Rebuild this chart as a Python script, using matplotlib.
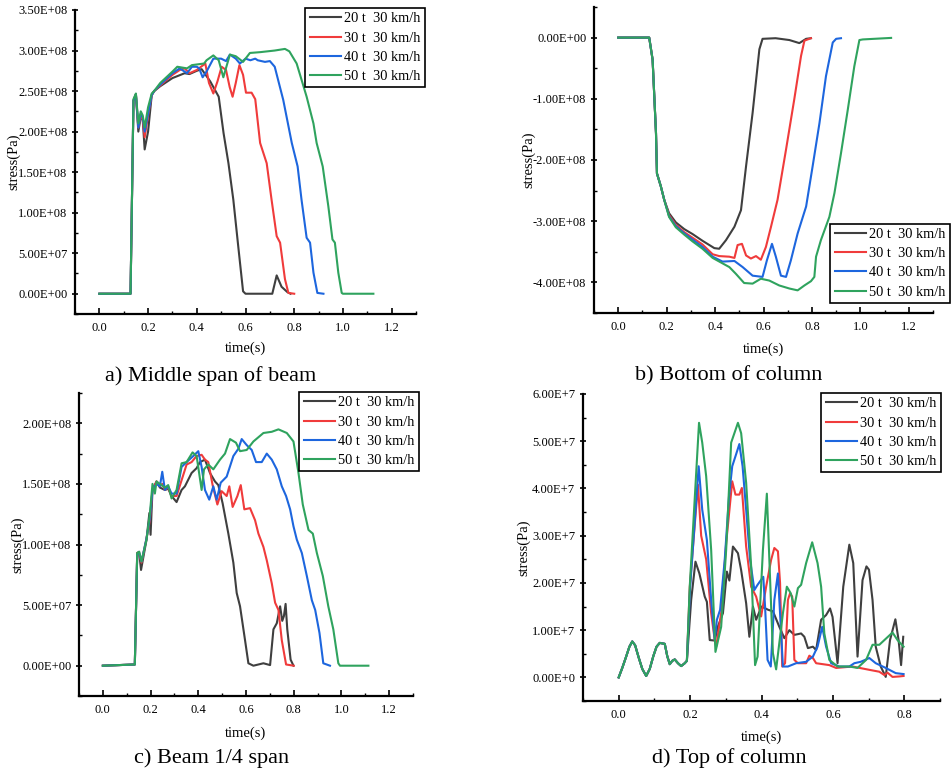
import matplotlib
matplotlib.use("Agg")
import matplotlib.pyplot as plt
from matplotlib.ticker import MultipleLocator, FuncFormatter

plt.rcParams['font.family'] = ['Liberation Serif', 'DejaVu Serif']

W, H = 952, 775

labels = ['20 t  30 km/h', '30 t  30 km/h', '40 t  30 km/h', '50 t  30 km/h']
colors = ['#3f3f3f', '#f03b3b', '#1d66de', '#2fa35e']

# ---- a) middle span of beam, stress in 1e8 Pa ----
a_t20 = [0, 0.128, 0.14, 0.15, 0.16, 0.17, 0.178, 0.186, 0.2, 0.215, 0.225, 0.25, 0.3, 0.35, 0.37, 0.4,
         0.42, 0.455, 0.49, 0.51, 0.53, 0.55, 0.57, 0.59, 0.6, 0.71, 0.728, 0.748, 0.772, 0.785]
a_s20 = [0, 0, 2.38, 2.46, 2.0, 2.18, 2.15, 1.78, 2.0, 2.45, 2.5, 2.56, 2.66, 2.72, 2.71, 2.75,
         2.77, 2.62, 2.43, 1.98, 1.61, 1.16, 0.59, 0.03, 0, 0, 0.226, 0.086, 0.02, 0]
a_t30 = [0, 0.128, 0.14, 0.15, 0.16, 0.17, 0.178, 0.186, 0.2, 0.215, 0.225, 0.25, 0.3, 0.33, 0.35, 0.37,
         0.4, 0.435, 0.45, 0.468, 0.485, 0.502, 0.52, 0.535, 0.547, 0.56, 0.575, 0.59, 0.602, 0.625,
         0.64, 0.66, 0.687, 0.707, 0.728, 0.742, 0.762, 0.776, 0.8]
a_s30 = [0, 0, 2.38, 2.46, 2.05, 2.2, 2.15, 1.93, 2.2, 2.45, 2.5, 2.57, 2.7, 2.76, 2.78, 2.72,
         2.76, 2.84, 2.6, 2.47, 2.62, 2.8, 2.76, 2.55, 2.43, 2.6, 2.82, 2.7, 2.48, 2.48,
         2.4, 1.86, 1.61, 1.16, 0.71, 0.63, 0.18, 0.01, 0]
a_t40 = [0, 0.128, 0.14, 0.15, 0.16, 0.17, 0.178, 0.186, 0.2, 0.215, 0.225, 0.25, 0.3, 0.33, 0.36, 0.38,
         0.4, 0.41, 0.424, 0.44, 0.468, 0.5, 0.52, 0.536, 0.56, 0.577, 0.6, 0.62, 0.64, 0.65, 0.68,
         0.7, 0.72, 0.755, 0.79, 0.814, 0.83, 0.851, 0.865, 0.879, 0.895, 0.92]
a_s40 = [0, 0, 2.38, 2.46, 2.05, 2.22, 2.18, 2.0, 2.22, 2.45, 2.5, 2.58, 2.72, 2.78, 2.72, 2.8,
         2.8, 2.78, 2.67, 2.74, 2.9, 2.9, 2.87, 2.95, 2.9, 2.84, 2.9, 2.88, 2.9, 2.88, 2.86,
         2.87, 2.8, 2.39, 1.86, 1.57, 1.16, 0.69, 0.63, 0.26, 0.01, 0]
a_t50 = [0, 0.128, 0.14, 0.15, 0.16, 0.17, 0.178, 0.186, 0.2, 0.215, 0.225, 0.25, 0.3, 0.32, 0.36, 0.38,
         0.43, 0.44, 0.468, 0.49, 0.509, 0.536, 0.56, 0.59, 0.618, 0.66, 0.72, 0.762, 0.78, 0.81,
         0.851, 0.879, 0.892, 0.917, 0.94, 0.957, 0.967, 0.981, 0.995, 1.0, 1.125]
a_s50 = [0, 0, 2.4, 2.47, 2.1, 2.25, 2.2, 2.05, 2.3, 2.47, 2.5, 2.6, 2.74, 2.8, 2.78, 2.82,
         2.84, 2.88, 2.94, 2.88, 2.67, 2.95, 2.93, 2.86, 2.97, 2.98, 3.0, 3.02, 2.99, 2.84,
         2.43, 2.1, 1.86, 1.57, 1.08, 0.67, 0.63, 0.26, 0.01, 0, 0]

# ---- b) bottom of column, stress in 1e8 Pa ----
b_t0 = [0, 0.128, 0.142, 0.156, 0.16, 0.176, 0.19, 0.21, 0.238, 0.273, 0.307, 0.348]
b_t20 = b_t0 + [0.397, 0.417, 0.445, 0.48, 0.507, 0.528, 0.555, 0.583, 0.596, 0.65, 0.707, 0.748,
                0.776, 0.796]
b_s20 = [0, 0, -0.36, -1.56, -2.22, -2.43, -2.65, -2.87, -3.02, -3.13, -3.21, -3.32,
         -3.44, -3.45, -3.31, -3.09, -2.82, -2.1, -1.23, -0.19, -0.02, -0.01, -0.04, -0.09,
         -0.02, -0.01]
b_t30 = b_t0 + [0.39, 0.417, 0.459, 0.48, 0.493, 0.511, 0.528, 0.548, 0.569, 0.589, 0.61, 0.631,
                0.658, 0.693, 0.727, 0.755, 0.769, 0.796]
b_s30 = [0, 0, -0.36, -1.56, -2.22, -2.43, -2.65, -2.9, -3.06, -3.18, -3.27, -3.38,
         -3.54, -3.57, -3.58, -3.6, -3.39, -3.37, -3.56, -3.61, -3.57, -3.63, -3.42, -3.09,
         -2.65, -1.83, -1.01, -0.3, -0.05, -0.01]
b_t40 = b_t0 + [0.39, 0.431, 0.48, 0.514, 0.555, 0.596, 0.614, 0.635, 0.651, 0.672, 0.693, 0.713,
                0.741, 0.776, 0.803, 0.831, 0.858, 0.886, 0.9, 0.92]
b_s40 = [0, 0, -0.36, -1.56, -2.22, -2.43, -2.65, -2.92, -3.08, -3.2, -3.3, -3.42,
         -3.58, -3.66, -3.65, -3.75, -3.89, -3.91, -3.64, -3.37, -3.58, -3.89, -3.91, -3.64,
         -3.2, -2.76, -2.1, -1.4, -0.63, -0.08, -0.02, -0.01]
b_t50 = b_t0 + [0.39, 0.459, 0.486, 0.52, 0.555, 0.589, 0.624, 0.665, 0.707, 0.741, 0.769, 0.796,
                0.81, 0.817, 0.837, 0.872, 0.893, 0.92, 0.948, 0.975, 0.996, 1.01, 1.127]
b_s50 = [0, 0, -0.36, -1.56, -2.22, -2.43, -2.65, -2.93, -3.1, -3.22, -3.33, -3.45,
         -3.6, -3.75, -3.86, -4.01, -4.02, -3.94, -3.97, -4.05, -4.1, -4.13, -4.05, -3.98,
         -3.91, -3.58, -3.31, -2.93, -2.54, -1.89, -1.18, -0.47, -0.04, -0.03, -0.005]

# ---- c) beam 1/4 span, stress in 1e8 Pa ----
c_t20 = [0, 0.134, 0.144, 0.152, 0.16, 0.183, 0.195, 0.2, 0.208, 0.225, 0.239, 0.26, 0.274, 0.288,
         0.309, 0.33, 0.344, 0.372, 0.393, 0.407, 0.428, 0.449, 0.47, 0.484, 0.502, 0.526, 0.547,
         0.561, 0.575, 0.596, 0.61, 0.631, 0.673, 0.701, 0.715, 0.729, 0.743, 0.752, 0.759, 0.766,
         0.773, 0.787, 0.799]
c_s20 = [0, 0.01, 0.93, 0.94, 0.79, 1.04, 1.26, 1.08, 1.45, 1.52, 1.47, 1.45, 1.46, 1.4,
         1.35, 1.45, 1.48, 1.59, 1.63, 1.68, 1.70, 1.59, 1.52, 1.49, 1.34, 1.09, 0.85,
         0.6, 0.49, 0.21, 0.02, 0.0, 0.02, 0.005, 0.3, 0.35, 0.49, 0.37, 0.41, 0.51,
         0.3, 0.05, 0]
c_t30 = [0, 0.134, 0.144, 0.152, 0.162, 0.183, 0.197, 0.208, 0.225, 0.239, 0.249, 0.26, 0.274, 0.288,
         0.309, 0.33, 0.351, 0.372, 0.393, 0.414, 0.428, 0.442, 0.46, 0.48, 0.498, 0.519, 0.53,
         0.544, 0.564, 0.578, 0.593, 0.617, 0.638, 0.652, 0.673, 0.687, 0.708, 0.722, 0.736, 0.75,
         0.768, 0.8]
c_s30 = [0, 0.01, 0.93, 0.92, 0.85, 1.05, 1.2, 1.45, 1.52, 1.48, 1.5, 1.45, 1.47, 1.4,
         1.4, 1.53, 1.66, 1.68, 1.73, 1.74, 1.70, 1.68, 1.49, 1.33, 1.44, 1.40, 1.48,
         1.31, 1.40, 1.49, 1.29, 1.30, 1.20, 1.09, 0.98, 0.87, 0.68, 0.52, 0.46, 0.21,
         0.01, 0]
c_t40 = [0, 0.134, 0.144, 0.152, 0.162, 0.183, 0.197, 0.208, 0.225, 0.239, 0.249, 0.26, 0.274, 0.288,
         0.309, 0.33, 0.351, 0.379, 0.4, 0.414, 0.428, 0.446, 0.463, 0.477, 0.494, 0.519, 0.547,
         0.568, 0.582, 0.603, 0.624, 0.642, 0.666, 0.687, 0.708, 0.729, 0.75, 0.768, 0.785, 0.799,
         0.813, 0.834, 0.855, 0.876, 0.89, 0.908, 0.924, 0.952]
c_s40 = [0, 0.01, 0.92, 0.93, 0.86, 1.05, 1.22, 1.45, 1.5, 1.48, 1.6, 1.45, 1.48, 1.42,
         1.42, 1.64, 1.68, 1.73, 1.77, 1.64, 1.45, 1.37, 1.48, 1.37, 1.51, 1.56, 1.73,
         1.79, 1.87, 1.82, 1.78, 1.68, 1.68, 1.75, 1.70, 1.62, 1.48, 1.40, 1.29, 1.15,
         1.04, 0.93, 0.74, 0.54, 0.46, 0.27, 0.02, 0]
c_t50 = [0, 0.134, 0.144, 0.152, 0.162, 0.183, 0.197, 0.208, 0.218, 0.225, 0.239, 0.26, 0.274, 0.288,
         0.309, 0.33, 0.351, 0.376, 0.393, 0.414, 0.424, 0.442, 0.463, 0.491, 0.512, 0.533, 0.558,
         0.575, 0.603, 0.631, 0.673, 0.708, 0.736, 0.771, 0.799, 0.82, 0.838, 0.862, 0.88, 0.897,
         0.922, 0.945, 0.966, 0.987, 0.994, 1.113]
c_s50 = [0, 0.01, 0.93, 0.94, 0.86, 1.04, 1.25, 1.5, 1.42, 1.52, 1.5, 1.47, 1.49, 1.38,
         1.45, 1.67, 1.68, 1.76, 1.73, 1.45, 1.62, 1.66, 1.62, 1.70, 1.75, 1.87, 1.84,
         1.77, 1.78, 1.85, 1.92, 1.93, 1.95, 1.92, 1.85, 1.59, 1.33, 1.12, 1.09, 0.93,
         0.74, 0.49, 0.30, 0.02, 0, 0]

# ---- d) top of column, stress in 1e7 Pa ----
d_t0 = [0, 0.01, 0.02, 0.03, 0.038, 0.046, 0.056, 0.066, 0.077, 0.087, 0.097, 0.106, 0.115,
        0.129, 0.136, 0.143, 0.15, 0.157, 0.166, 0.175, 0.185, 0.191]
d_s0 = [0, 0.2, 0.42, 0.65, 0.76, 0.68, 0.42, 0.18, 0.03, 0.18, 0.45, 0.65, 0.73,
        0.71, 0.45, 0.28, 0.35, 0.38, 0.3, 0.24, 0.3, 0.35]
d_t20 = d_t0 + [0.203, 0.215, 0.226, 0.241, 0.247, 0.255, 0.269, 0.278, 0.292, 0.303, 0.31, 0.32,
                0.334, 0.343, 0.357, 0.366, 0.376, 0.385, 0.4, 0.419, 0.432, 0.45, 0.464, 0.478,
                0.492, 0.511, 0.52, 0.53, 0.544, 0.553, 0.567, 0.581, 0.592, 0.599, 0.613, 0.629,
                0.646, 0.657, 0.669, 0.683, 0.694, 0.701, 0.711, 0.72, 0.734, 0.748, 0.76, 0.775,
                0.784, 0.791, 0.797]
d_s20 = d_s0 + [1.64, 2.45, 2.2, 1.71, 1.6, 0.79, 0.78, 1.08, 1.36, 2.24, 2.05, 2.77,
                2.63, 2.27, 1.57, 0.86, 1.5, 1.22, 1.5, 1.43, 1.4, 1.07, 0.83, 1.0,
                0.9, 0.93, 0.86, 0.62, 0.65, 0.58, 1.22, 1.32, 1.46, 1.28, 0.30, 1.92,
                2.81, 2.42, 0.44, 2.06, 2.35, 2.28, 1.64, 0.65, 0.23, 0.01, 0.79, 1.23,
                0.79, 0.26, 0.86]
d_t30 = d_t0 + [0.199, 0.222, 0.231, 0.245, 0.259, 0.269, 0.273, 0.287, 0.301, 0.318, 0.327, 0.338,
                0.345, 0.357, 0.371, 0.385, 0.399, 0.413, 0.427, 0.436, 0.446, 0.452, 0.458, 0.466,
                0.474, 0.48, 0.486, 0.492, 0.502, 0.525, 0.534, 0.544, 0.553, 0.59, 0.609, 0.655,
                0.702, 0.73, 0.744, 0.753, 0.767, 0.786, 0.798]
d_s30 = d_s0 + [1.9, 4.08, 3.0, 2.5, 1.36, 0.79, 0.65, 1.36, 2.84, 4.15, 3.87, 3.87,
                4.01, 2.77, 1.92, 1.71, 1.29, 1.92, 2.49, 2.74, 2.67, 2.0, 0.23, 0.3,
                1.64, 1.78, 1.71, 0.37, 0.30, 0.30, 0.46, 0.41, 0.30, 0.26, 0.20, 0.23,
                0.16, 0.12, 0.05, 0.1, 0.01, 0.02, 0.03]
d_t40 = d_t0 + [0.2, 0.224, 0.234, 0.247, 0.259, 0.269, 0.275, 0.284, 0.297, 0.309, 0.318, 0.327,
                0.338, 0.347, 0.357, 0.368, 0.38, 0.389, 0.405, 0.41, 0.417, 0.426, 0.436, 0.446,
                0.45, 0.46, 0.474, 0.497, 0.525, 0.544, 0.557, 0.57, 0.581, 0.595, 0.618, 0.646,
                0.66, 0.678, 0.702, 0.72, 0.748, 0.776, 0.798]
d_s40 = d_s0 + [1.9, 4.47, 3.55, 2.91, 1.64, 0.79, 1.22, 1.43, 2.49, 3.83, 4.47, 4.68,
                4.94, 4.47, 3.55, 2.49, 1.85, 1.96, 2.13, 1.5, 0.37, 0.23, 1.64, 2.2,
                1.64, 0.23, 0.23, 0.30, 0.33, 0.44, 0.65, 1.07, 0.65, 0.30, 0.23, 0.23,
                0.30, 0.33, 0.41, 0.30, 0.20, 0.09, 0.07]
d_t50 = d_t0 + [0.199, 0.225, 0.234, 0.245, 0.259, 0.271, 0.287, 0.301, 0.315, 0.334, 0.343, 0.357,
                0.371, 0.382, 0.389, 0.404, 0.415, 0.422, 0.432, 0.441, 0.46, 0.471, 0.482, 0.492,
                0.502, 0.511, 0.525, 0.542, 0.557, 0.567, 0.576, 0.59, 0.613, 0.646, 0.669, 0.693,
                0.711, 0.73, 0.767, 0.781, 0.798]
d_s50 = d_s0 + [1.92, 5.39, 4.97, 4.26, 2.70, 0.54, 1.07, 2.70, 4.97, 5.39, 5.17, 4.12,
                2.35, 0.26, 0.44, 2.70, 3.89, 2.49, 0.51, 0.17, 1.36, 1.92, 1.78, 1.50,
                1.89, 1.96, 2.42, 2.86, 2.42, 1.92, 0.93, 0.37, 0.23, 0.23, 0.20, 0.37,
                0.69, 0.69, 0.95, 0.79, 0.65]


def sci(v, pos, short_exp=False):
    s = '%.2E' % v
    if short_exp:
        mant, exp = s.split('E')
        s = '%sE%s%d' % (mant, exp[0], abs(int(exp)))
    return s


def px_box(left, top, right, bottom):
    return [left / W, 1 - bottom / H, (right - left) / W, (bottom - top) / H]


def panel(box, series, scale, xlim, ylim, xmaj, ymaj, caption, cap_xy, xlab_y, ylab_x,
          leg_anchor, leg_loc, short_exp=False):
    ax = fig.add_axes(px_box(*box))
    for (t, s), c, lab in zip(series, colors, labels):
        ax.plot(t, [v * scale for v in s], color=c, lw=1.5, label=lab)
    ax.set_xlim(*xlim)
    ax.set_ylim(*ylim)
    for side in ('top', 'right'):
        ax.spines[side].set_visible(False)
    for side in ('left', 'bottom'):
        ax.spines[side].set_linewidth(1.6)
    ax.xaxis.set_major_locator(MultipleLocator(xmaj))
    ax.xaxis.set_minor_locator(MultipleLocator(xmaj / 2))
    ax.yaxis.set_major_locator(MultipleLocator(ymaj))
    ax.yaxis.set_minor_locator(MultipleLocator(ymaj / 2))
    ax.xaxis.set_major_formatter(FuncFormatter(lambda v, p: '%.1f' % v))
    ax.yaxis.set_major_formatter(FuncFormatter(lambda v, p: sci(v, p, short_exp)))
    ax.tick_params(axis='x', which='major', direction='in', length=4, width=1.2,
                   labelsize=9, pad=6)
    ax.tick_params(axis='x', which='minor', direction='in', length=2.5, width=1.0)
    ax.tick_params(axis='y', which='major', direction='inout', length=5, width=1.2,
                   labelsize=9, pad=3)
    ax.tick_params(axis='y', which='minor', direction='in', length=2.5, width=1.0)
    ax.set_xlabel('time(s)', fontsize=10.5, va='center')
    ax.set_ylabel('stress(Pa)', fontsize=10.5, va='center')
    ax.xaxis.set_label_coords(0.5, xlab_y)
    ax.yaxis.set_label_coords(ylab_x, 0.5)
    leg = ax.legend(loc=leg_loc, bbox_to_anchor=(leg_anchor[0] / W, 1 - leg_anchor[1] / H),
                    bbox_transform=fig.transFigure, fontsize=10.4, frameon=True, fancybox=False,
                    edgecolor='black', framealpha=1, borderpad=0.3, labelspacing=0.42,
                    handlelength=2.2, handletextpad=0.2, borderaxespad=0)
    leg.get_frame().set_linewidth(1.2)
    fig.text(cap_xy[0] / W, 1 - cap_xy[1] / H, caption, fontsize=16, ha='center', va='center')
    return ax


fig = plt.figure(figsize=(W / 100, H / 100), dpi=100)

panel((75, 10, 416, 314),
      [(a_t20, a_s20), (a_t30, a_s30), (a_t40, a_s40), (a_t50, a_s50)], 1e8,
      (-0.1, 1.3), (-0.25e8, 3.5e8), 0.2, 0.5e8,
      'a) Middle span of beam', (211, 376), -0.112, -0.179, (425, 8), 'upper right')

panel((594, 7, 933, 313),
      [(b_t20, b_s20), (b_t30, b_s30), (b_t40, b_s40), (b_t50, b_s50)], 1e8,
      (-0.1, 1.3), (-4.5e8, 0.5e8), 0.2, 1e8,
      'b) Bottom of column', (729, 376), -0.118, -0.192, (950, 303), 'lower right')

panel((79, 393, 413, 696),
      [(c_t20, c_s20), (c_t30, c_s30), (c_t40, c_s40), (c_t50, c_s50)], 1e8,
      (-0.1, 1.3), (-0.25e8, 2.25e8), 0.2, 0.5e8,
      'c) Beam 1/4 span', (212, 758), -0.122, -0.183, (419, 392), 'upper right')

panel((583, 394, 940, 701),
      [(d_t20, d_s20), (d_t30, d_s30), (d_t40, d_s40), (d_t50, d_s50)], 1e7,
      (-0.1, 0.9), (-0.5e7, 6e7), 0.2, 1e7,
      'd) Top of column', (729, 758), -0.117, -0.165, (941, 393), 'upper right',
      short_exp=True)

fig.savefig('out.png', dpi=100)
